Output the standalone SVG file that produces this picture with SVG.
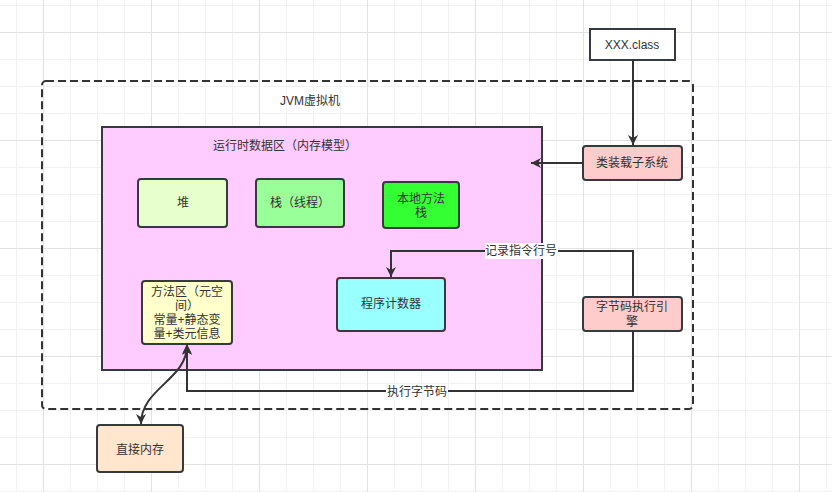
<svg xmlns="http://www.w3.org/2000/svg" width="832" height="492" viewBox="0 0 832 492">
<style>
text{font-family:"Liberation Sans","Noto Sans CJK SC",sans-serif;font-size:12px;fill:#333;text-anchor:middle;dominant-baseline:central}
.box{stroke:#36393d;stroke-width:2}
.con{fill:none;stroke:#333;stroke-width:2}
</style>
<defs>
<pattern id="grid" patternUnits="userSpaceOnUse" x="43" y="32" width="108" height="108">
<path d="M27.5,0V108M54.5,0V108M81.5,0V108M0,27.5H108M0,54.5H108M0,81.5H108" stroke="#f2f2f2" stroke-width="1" fill="none"/>
<path d="M0.5,0V108M0,0.5H108" stroke="#e2e2e2" stroke-width="1" fill="none"/>
</pattern>
<marker id="arr" viewBox="0 0 10 10" refX="10" refY="5" markerWidth="10" markerHeight="10" markerUnits="userSpaceOnUse" orient="auto-start-reverse">
<path d="M0,0 L10,5 L0,10 L3,5 Z" fill="#333"/>
</marker>
</defs>
<rect width="832" height="492" fill="#fff"/>
<rect width="832" height="492" fill="url(#grid)"/>

<g id="jvm">
<rect x="42" y="81" width="651" height="328" rx="4" fill="none" stroke="#333" stroke-width="2" stroke-dasharray="8 4"/>
<text x="310" y="101">JVM虚拟机</text>
</g>
<g id="runtime">
<rect x="102" y="127" width="440" height="243" fill="#FFCCFF" class="box"/>
<text x="285" y="146">运行时数据区（内存模型）</text>
</g>
<g id="heap">
<rect x="138" y="179" width="89" height="48" rx="3" fill="#E6FFCC" class="box"/>
<text x="183" y="203">堆</text>
</g>
<g id="stack">
<rect x="256" y="179" width="88" height="48" rx="3" fill="#99FF99" class="box"/>
<text x="300" y="203">栈（线程）</text>
</g>
<g id="native">
<rect x="383" y="182" width="76" height="46" rx="3" fill="#33FF33" class="box"/>
<text x="421" y="199">本地方法</text>
<text x="421" y="213">栈</text>
</g>
<g id="method">
<rect x="142" y="281" width="90" height="63" rx="3" fill="#FFFFCC" class="box"/>
<text x="187" y="292">方法区（元空</text>
<text x="187" y="306">间）</text>
<text x="187" y="320">常量+静态变</text>
<text x="187" y="334">量+类元信息</text>
</g>
<g id="pc">
<rect x="337" y="278" width="108" height="53" rx="3" fill="#99FFFF" class="box"/>
<text x="391" y="304">程序计数器</text>
</g>
<g id="xxxclass">
<rect x="590" y="29" width="85" height="31" fill="#fff" class="box"/>
<text x="632" y="45">XXX.class</text>
</g>
<g id="loader">
<rect x="583" y="146" width="99" height="34" rx="3" fill="#FFCCCC" class="box"/>
<text x="632" y="163">类装载子系统</text>
</g>
<g id="engine">
<rect x="583" y="297" width="99" height="34" rx="3" fill="#FFCCCC" class="box"/>
<text x="632" y="307">字节码执行引</text>
<text x="632" y="322">擎</text>
</g>
<g id="direct">
<rect x="97" y="425" width="86" height="47" rx="3" fill="#FFE6CC" class="box"/>
<text x="140" y="450">直接内存</text>
</g>

<g id="connectors">
<path class="con" d="M633,60 V145" marker-end="url(#arr)"/>
<path class="con" d="M583,163 H531" marker-end="url(#arr)"/>
<path class="con" d="M633,297 V251 H391 V277" marker-end="url(#arr)"/>
<path class="con" d="M633,331 V391 H187 V344" marker-end="url(#arr)"/>
<path class="con" d="M187,345 C187,380 141,388 141,424" marker-start="url(#arr)" marker-end="url(#arr)"/>
<rect x="485" y="243" width="73" height="16" fill="#fff"/>
<text x="521" y="251">记录指令行号</text>
<rect x="386" y="384" width="62" height="16" fill="#fff"/>
<text x="417" y="392">执行字节码</text>
</g>
</svg>
